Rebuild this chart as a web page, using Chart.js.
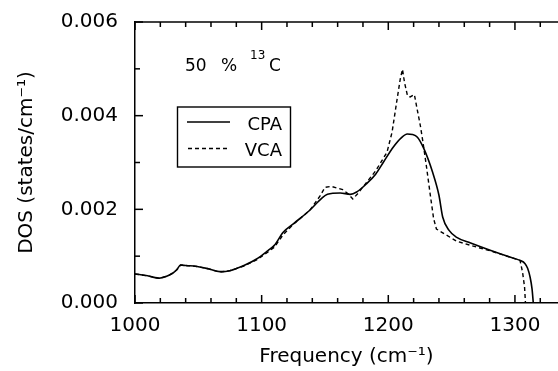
<!DOCTYPE html>
<html>
<head>
<meta charset="utf-8">
<script src="https://cdn.jsdelivr.net/npm/chart.js@4"></script>
<style>
  html, body { margin: 0; padding: 0; background: #fff; }
  #wrap { width: 558px; height: 371px; }
</style>
</head>
<body>
<div id="wrap"><canvas id="dos"></canvas></div>
<script>
// ── Data ──────────────────────────────────────────────────────
// CPA (solid) curve: frequency (cm-1) and DOS (states/cm-1)
const cpaFreq = [1000, 1010, 1019, 1025, 1030, 1033, 1036, 1040, 1049, 1058, 1067, 1075,
                 1086, 1096, 1105, 1110, 1117, 1125, 1138, 1148, 1152, 1162, 1170, 1175,
                 1183, 1190, 1196, 1204, 1210, 1215, 1219, 1223, 1228, 1235, 1240, 1243,
                 1248, 1254, 1265, 1281, 1296, 1304, 1308, 1310, 1312, 1313.5, 1314.5];
const cpaDos  = [0.00062, 0.00058, 0.00053, 0.00057, 0.00064, 0.00071, 0.00081, 0.00080, 0.00078, 0.00073, 0.00067, 0.00069,
                 0.00080, 0.00094, 0.00112, 0.00123, 0.00151, 0.00169, 0.00198, 0.00225, 0.00232, 0.00235, 0.00232, 0.00237,
                 0.00255, 0.00275, 0.00300, 0.00333, 0.00352, 0.00361, 0.00360, 0.00354, 0.00330, 0.00279, 0.00230, 0.00183,
                 0.00155, 0.00140, 0.00128, 0.00112, 0.00098, 0.00091, 0.00084, 0.00074, 0.00055, 0.00030, 0.00000];

// VCA (dashed) curve
const vcaFreq = [1000, 1010, 1019, 1025, 1030, 1033, 1036, 1040, 1049, 1058, 1067, 1075,
                 1086, 1096, 1105, 1110, 1117, 1125, 1138, 1146, 1150, 1155, 1164, 1168,
                 1172, 1176, 1183, 1190, 1199, 1203, 1207, 1209.5, 1211.2, 1212.8, 1215.2, 1217.3,
                 1220.6, 1222.7, 1225.3, 1227.4, 1230, 1233.2, 1235.8, 1238, 1244, 1254, 1265,
                 1281, 1296, 1304, 1306, 1307.6, 1308.3];
const vcaDos  = [0.00062, 0.00058, 0.00053, 0.00057, 0.00064, 0.00071, 0.00081, 0.00080, 0.00078, 0.00073, 0.00066, 0.00069,
                 0.00079, 0.00092, 0.00109, 0.00119, 0.00146, 0.00168, 0.00198, 0.00228, 0.00247, 0.00249, 0.00242, 0.00234,
                 0.00222, 0.00234, 0.00258, 0.00282, 0.00322, 0.00365, 0.00436, 0.00479, 0.00499, 0.00471, 0.00442, 0.00440,
                 0.00445, 0.00415, 0.00379, 0.00343, 0.00294, 0.00230, 0.00180, 0.00158, 0.00148, 0.00132, 0.00123,
                 0.00111, 0.00098, 0.00091, 0.00066, 0.00034, 0.00000];

// Axis ranges and tick steps
const xRange = [1000, 1334];
const yRange = [0, 0.006];
const xMinorStep = 20, xMajorStep = 100;
const yMinorStep = 0.001, yMajorStep = 0.002;

const INK = '#000';
const FONT = 'DejaVu Sans';

const toPoints = (xs, ys) => xs.map((x, i) => ({ x: x, y: ys[i] }));

// ── Plugin: inward ticks, top frame line, legend, label ───────
// (no canvas letterSpacing here: it makes this browser drop the tick strokes)
const frame = {
    id: 'frame',
    afterDraw(chart) {
        const { ctx, chartArea: a, scales: { x, y } } = chart;
        ctx.save();
        ctx.strokeStyle = INK;
        ctx.lineWidth = 1.5;

        // top frame line
        ctx.beginPath();
        ctx.moveTo(a.left, a.top);
        ctx.lineTo(a.right, a.top);
        ctx.stroke();

        // x ticks (bottom pointing up, top pointing down)
        for (let v = xRange[0]; v <= xRange[1]; v += xMinorStep) {
            const px = x.getPixelForValue(v);
            const len = (v % xMajorStep === 0) ? 8 : 5;
            ctx.beginPath();
            ctx.moveTo(px, a.bottom); ctx.lineTo(px, a.bottom - len);
            ctx.moveTo(px, a.top);    ctx.lineTo(px, a.top + len);
            ctx.stroke();
        }
        // y ticks (left, pointing right)
        const yCount = Math.round((yRange[1] - yRange[0]) / yMinorStep);
        const yEvery = Math.round(yMajorStep / yMinorStep);
        for (let i = 0; i <= yCount; i++) {
            const py = y.getPixelForValue(yRange[0] + i * yMinorStep);
            const len = (i % yEvery === 0) ? 8 : 5;
            ctx.beginPath();
            ctx.moveTo(a.left, py); ctx.lineTo(a.left + len, py);
            ctx.stroke();
        }

        // composition label: 50 % 13C
        ctx.fillStyle = INK;
        ctx.textBaseline = 'alphabetic';
        ctx.textAlign = 'left';
        ctx.font = `17px "${FONT}"`;
        ctx.fillText('50', 185, 71);
        ctx.fillText('%', 221, 71);
        ctx.fillText('C', 269, 71);
        ctx.font = `12px "${FONT}"`;
        ctx.fillText('13', 250, 59);

        // legend box
        ctx.lineWidth = 1.4;
        ctx.strokeRect(177.5, 107, 113, 60);
        ctx.lineWidth = 1.5;
        ctx.beginPath();
        ctx.moveTo(187, 122); ctx.lineTo(230, 122);
        ctx.stroke();
        ctx.setLineDash([4, 3]);
        ctx.beginPath();
        ctx.moveTo(188, 148.5); ctx.lineTo(230, 148.5);
        ctx.stroke();
        ctx.setLineDash([]);
        ctx.font = `18px "${FONT}"`;
        ctx.textAlign = 'right';
        ctx.fillText('CPA', 282, 129.5);
        ctx.fillText('VCA', 282, 156);
        ctx.restore();
    }
};

new Chart(document.getElementById('dos'), {
    type: 'line',
    data: {
        datasets: [{
            label: 'CPA',
            data: toPoints(cpaFreq, cpaDos),
            borderColor: INK,
            borderWidth: 1.6,
            pointRadius: 0,
            cubicInterpolationMode: 'monotone',
            fill: false
        }, {
            label: 'VCA',
            data: toPoints(vcaFreq, vcaDos),
            borderColor: INK,
            borderWidth: 1.4,
            borderDash: [4, 3],
            pointRadius: 0,
            tension: 0,
            fill: false
        }]
    },
    options: {
        responsive: true,
        maintainAspectRatio: false,
        animation: false,
        layout: { padding: { top: 22, right: 0, bottom: 0, left: 0 } },
        plugins: {
            legend: { display: false },
            tooltip: { enabled: false }
        },
        scales: {
            x: {
                type: 'linear',
                min: xRange[0],
                max: xRange[1],
                afterFit(s) { s.height = 68; s.paddingLeft = 0; s.paddingRight = 0; },
                grid: { display: false, drawTicks: false },
                border: { display: true, color: INK, width: 1.5 },
                ticks: {
                    stepSize: xMinorStep,
                    autoSkip: false,
                    maxRotation: 0,
                    padding: 11,
                    color: INK,
                    font: { family: FONT, size: 20 },
                    callback: v => (v % xMajorStep === 0 ? String(v) : '')
                },
                title: {
                    display: true,
                    text: 'Frequency (cm⁻¹)',
                    color: INK,
                    font: { family: FONT, size: 20 },
                    padding: { top: 0, bottom: 2 }
                }
            },
            y: {
                min: yRange[0],
                max: yRange[1],
                afterFit(s) { s.width = 135; s.paddingTop = 0; s.paddingBottom = 0; },
                grid: { display: false, drawTicks: false },
                border: { display: true, color: INK, width: 1.5 },
                ticks: {
                    stepSize: yMinorStep,
                    autoSkip: false,
                    padding: 17,
                    color: INK,
                    font: { family: FONT, size: 20 },
                    callback: v => (Math.round(v / yMinorStep) % 2 === 0 ? v.toFixed(3) : '')
                },
                title: {
                    display: true,
                    text: 'DOS (states/cm⁻¹)',
                    color: INK,
                    font: { family: FONT, size: 20 },
                    padding: { top: 15, bottom: 0 }
                }
            }
        }
    },
    plugins: [frame]
});
</script>
</body>
</html>
